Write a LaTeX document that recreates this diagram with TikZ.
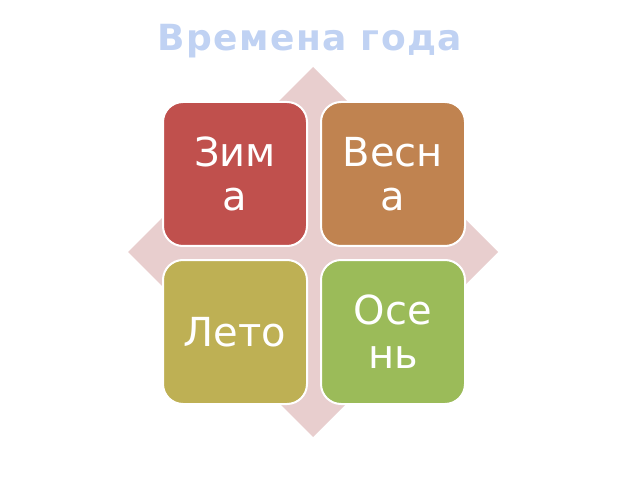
\documentclass[tikz,border=0pt]{standalone}
\usepackage{fontspec}
\setmainfont{DejaVu Sans}
\newfontfamily\titlefont[LetterSpace=4]{DejaVu Sans Bold}
\usetikzlibrary{positioning}
\definecolor{backdiamond}{RGB}{232,206,206}
\definecolor{titleblue}{RGB}{192,210,243}
\definecolor{winterred}{RGB}{192,80,77}
\definecolor{springbrown}{RGB}{192,131,80}
\definecolor{summerolive}{RGB}{190,176,84}
\definecolor{autumngreen}{RGB}{155,187,89}
\tikzset{
	season/.style={draw=white, line width=2pt, rounded corners=20pt,
		minimum width=144pt, minimum height=144pt, inner sep=0pt,
		text=white, align=center,
		font=\fontsize{40}{44}\selectfont}
}

\begin{document}
\begin{tikzpicture}[x=1pt,y=1pt]
	\useasboundingbox (0,0) rectangle (640,480);
	\fill[backdiamond] (313,413) -- (498,228) -- (313,43) -- (128,228) -- cycle;
	\node[text=titleblue, font=\titlefont\fontsize{36}{40}\selectfont] (title) at (310,439) {Времена года};
	\node[season, fill=winterred] (zima) at (235,306) {Зим\\а};
	\node[season, fill=springbrown, right=12pt of zima] (vesna) {Весн\\а};
	\node[season, fill=summerolive, below=12pt of zima] (leto) {Лето};
	\node[season, fill=autumngreen, below=12pt of vesna] (osen) {Осе\\нь};
\end{tikzpicture}
\end{document}
